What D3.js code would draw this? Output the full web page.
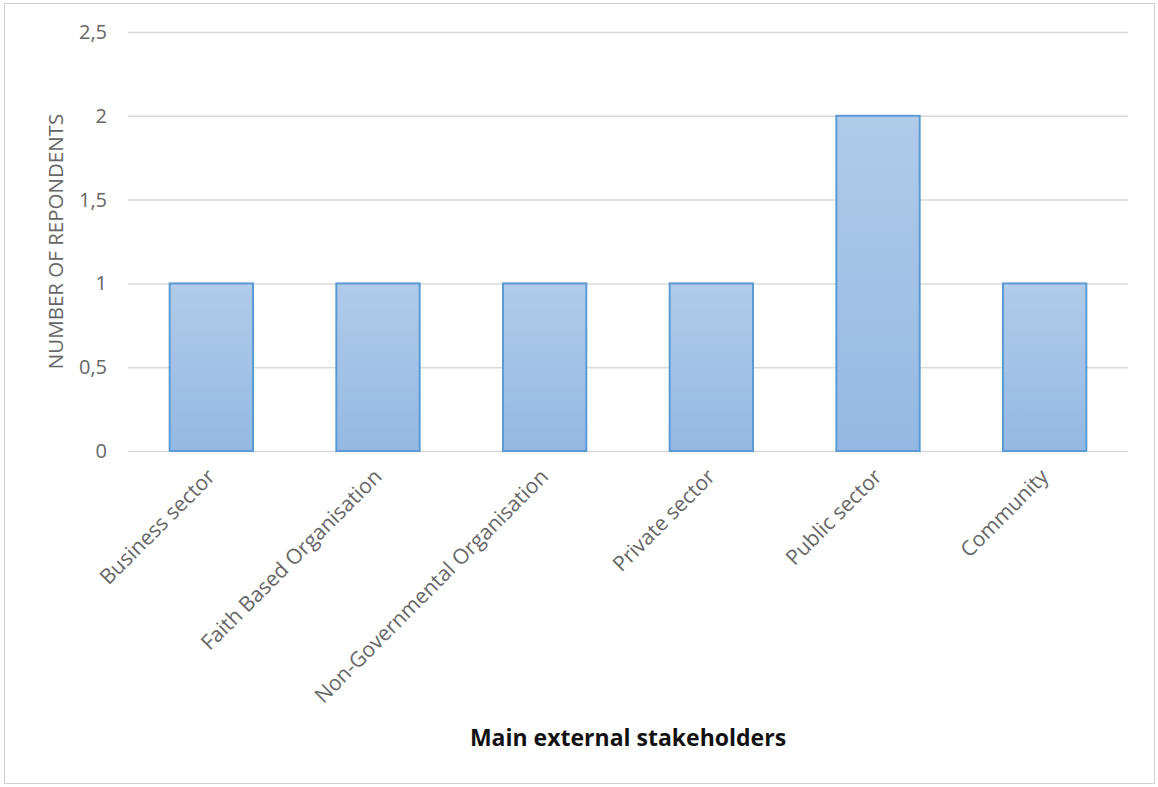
<!DOCTYPE html>
<html>
<head>
<meta charset="utf-8">
<script src="https://cdn.jsdelivr.net/npm/d3@7"></script>
<style>
  html, body { margin: 0; padding: 0; background: #fff; }
  svg { display: block; }
</style>
</head>
<body>
<svg id="chart" width="1158" height="787"></svg>
<script>
// Respondents per stakeholder group
const categories = ["Business sector", "Faith Based Organisation", "Non-Governmental Organisation", "Private sector", "Public sector", "Community"];
const values = [1, 1, 1, 1, 2, 1];
const yTicks = [0, 0.5, 1, 1.5, 2, 2.5];
const yTitle = "NUMBER OF REPONDENTS";
const xTitle = "Main external stakeholders";

const svg = d3.select("#chart");
const W = 1158, H = 787;
const margin = { left: 128, right: 30, top: 32, bottom: 336 };
const plotW = W - margin.left - margin.right;
const plotH = H - margin.top - margin.bottom;
const font = "'Open Sans', 'Liberation Sans', sans-serif";

// Outer frame
svg.append("rect")
  .attr("x", 4.5).attr("y", 3.5)
  .attr("width", 1150).attr("height", 780)
  .attr("fill", "#fff").attr("stroke", "#d0d0d0").attr("stroke-width", 1);

const defs = svg.append("defs");
const grad = defs.append("linearGradient")
  .attr("id", "barFill").attr("x1", 0).attr("y1", 0).attr("x2", 0).attr("y2", 1);
grad.append("stop").attr("offset", "0%").attr("stop-color", "#b1cbe9");
grad.append("stop").attr("offset", "100%").attr("stop-color", "#94b8e3");

const g = svg.append("g").attr("transform", `translate(${margin.left},${margin.top})`);

const x = d3.scaleBand().domain(categories).range([0, plotW]).paddingInner(0.5).paddingOuter(0.25);
const y = d3.scaleLinear().domain([0, 2.5]).range([plotH, 0]);

// Horizontal gridlines + y tick labels
const yAxis = d3.axisLeft(y)
  .tickValues(yTicks)
  .tickSize(-plotW)
  .tickPadding(21)
  .tickFormat(d => String(d).replace(".", ","));
const yg = g.append("g").call(yAxis);
yg.select(".domain").remove();
yg.selectAll(".tick line").attr("stroke", "#d9d9d9").attr("stroke-width", 1.5);
yg.selectAll(".tick text")
  .attr("fill", "#666")
  .style("font-family", font)
  .style("font-size", "20px");

// Bars
g.selectAll("rect.bar")
  .data(categories)
  .join("rect")
  .attr("class", "bar")
  .attr("x", d => x(d))
  .attr("y", (d, i) => y(values[i]))
  .attr("width", x.bandwidth())
  .attr("height", (d, i) => y(0) - y(values[i]))
  .attr("fill", "url(#barFill)")
  .attr("stroke", "#5b9bd5")
  .attr("stroke-width", 2);

// Rotated category labels
const xAxis = d3.axisBottom(x).tickSize(0).tickPadding(0);
const xg = g.append("g").attr("transform", `translate(0,${plotH})`).call(xAxis);
xg.select(".domain").remove();
xg.selectAll(".tick text")
  .attr("fill", "#666")
  .style("font-family", font)
  .style("font-size", "21px")
  .attr("text-anchor", "end")
  .attr("dy", null)
  .attr("y", 0)
  .attr("transform", "translate(5,27) rotate(-45)");

// Axis titles
svg.append("text")
  .attr("transform", `translate(63,${margin.top + plotH / 2}) rotate(-90)`)
  .attr("text-anchor", "middle")
  .attr("fill", "#666")
  .style("font-family", font)
  .style("font-size", "20.5px")
  .text(yTitle);

svg.append("text")
  .attr("x", margin.left + plotW / 2)
  .attr("y", 746)
  .attr("text-anchor", "middle")
  .attr("fill", "#111")
  .style("font-family", font)
  .style("font-weight", "bold")
  .style("font-size", "23px")
  .text(xTitle);
</script>
</body>
</html>
